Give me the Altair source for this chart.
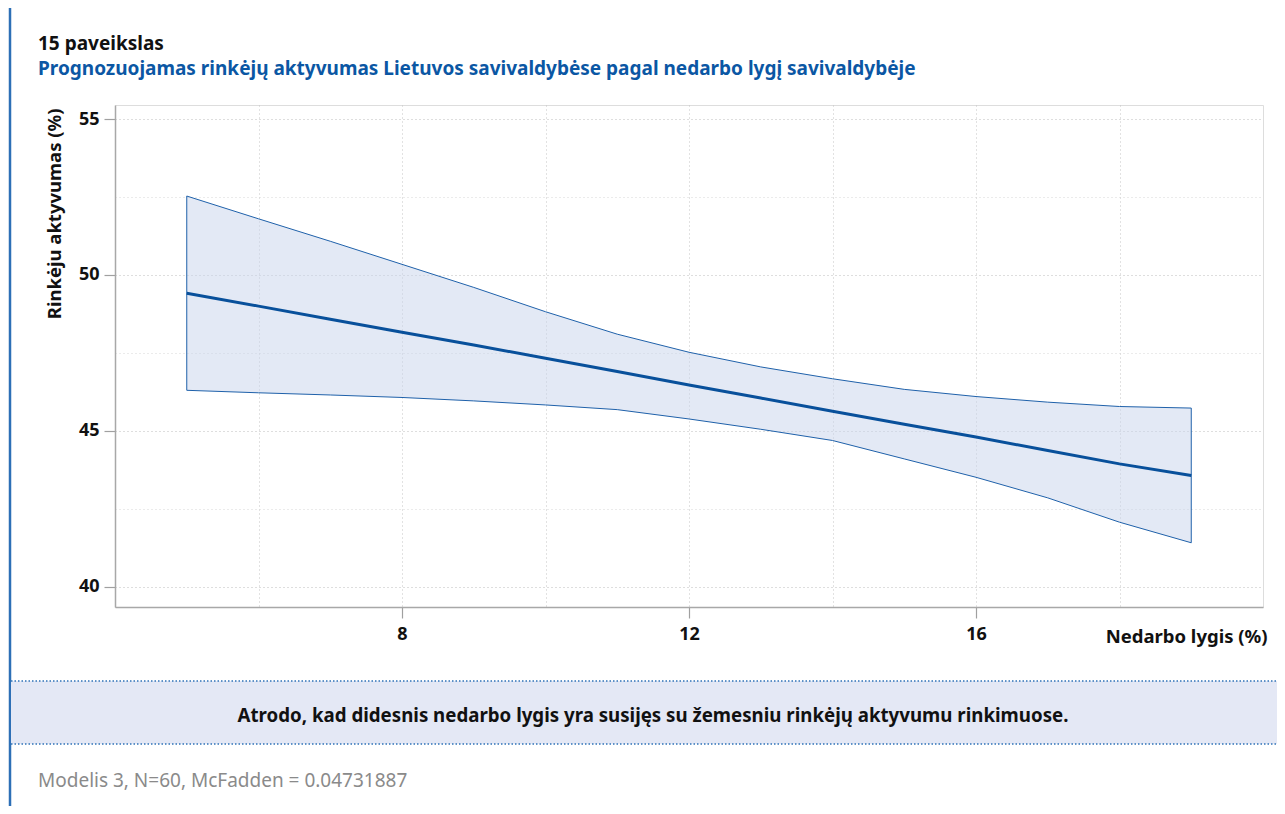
import altair as alt
import pandas as pd

# ---- data ----
unemployment = [5, 6, 7, 8, 9, 10, 11, 12, 13, 14, 15, 16, 17, 18, 19]
turnout_fit = [49.41, 49.00, 48.58, 48.16, 47.75, 47.33, 46.90, 46.47, 46.05, 45.63, 45.21, 44.80, 44.37, 43.94, 43.57]
turnout_upper = [52.53, 51.80, 51.08, 50.34, 49.60, 48.82, 48.10, 47.52, 47.05, 46.67, 46.33, 46.10, 45.92, 45.78, 45.73]
turnout_lower = [46.30, 46.22, 46.15, 46.07, 45.96, 45.83, 45.68, 45.38, 45.05, 44.69, 44.10, 43.51, 42.85, 42.07, 41.41]

x_grid_values = [6, 8, 10, 12, 14, 16, 18]
y_grid_values = [40, 42.5, 45, 47.5, 50, 52.5, 55]

title_text = "15 paveikslas"
subtitle_text = "Prognozuojamas rinkėjų aktyvumas Lietuvos savivaldybėse pagal nedarbo lygį savivaldybėje"
x_title = "Nedarbo lygis (%)"
y_title = "Rinkėju aktyvumas (%)"
band_text = "Atrodo, kad didesnis nedarbo lygis yra susijęs su žemesniu rinkėjų aktyvumu rinkimuose."
footer_text = "Modelis 3, N=60, McFadden = 0.04731887"

df = pd.DataFrame({"x": unemployment, "fit": turnout_fit,
                   "upper": turnout_upper, "lower": turnout_lower})

FONT = "Noto Sans"
BLUE = "#0b57a4"
W, H = 1148, 502

x_scale = alt.Scale(domain=[4, 20], nice=False, zero=False)
y_scale = alt.Scale(domain=[39.35, 55.45], nice=False, zero=False)

x_axis = alt.Axis(
    values=x_grid_values, grid=True, gridDash=[1, 3], gridColor="#c4c4c4", gridWidth=1,
    format=".0f",
    labelExpr="datum.value % 4 == 0 ? datum.label : ''",
    tickOpacity={"condition": {"test": "datum.value % 4 == 0", "value": 1}, "value": 0},
    tickSize=11, tickColor="#a0a0a0", tickWidth=1.2,
    domainColor="#a8a8a8", domainWidth=1.5,
    labelFont=FONT, labelFontSize=18, labelFontWeight="bold", labelColor="#111",
    labelPadding=7, labelFlush=False,
    title=x_title, titleFont=FONT, titleFontSize=18.5, titleFontWeight="bold", titleColor="#111",
    titleAnchor="end", titleAlign="right", titleBaseline="alphabetic",
    titleX=W + 4, titleY=35,
)
y_axis = alt.Axis(
    values=y_grid_values, grid=True, gridDash=[1, 3],
    gridColor={"condition": {"test": "datum.value % 5 == 0", "value": "#bdbdbd"}, "value": "#d6d6d6"},
    gridWidth=1, format=".0f",
    labelExpr="datum.value % 5 == 0 ? datum.label : ''",
    tickOpacity={"condition": {"test": "datum.value % 5 == 0", "value": 1}, "value": 0},
    tickSize=11, tickColor="#a0a0a0", tickWidth=1.2,
    domainColor="#a8a8a8", domainWidth=1.5,
    labelFont=FONT, labelFontSize=18, labelFontWeight="bold", labelColor="#111",
    labelPadding=5,
    title=y_title, titleFont=FONT, titleFontSize=18.5, titleFontWeight="bold", titleColor="#111",
    titleAngle=270, titleAlign="right", titleBaseline="alphabetic",
    titleX=-55, titleY=3,
)

base = alt.Chart(df)
band = base.mark_area(fill="#c8d3ec", fillOpacity=0.5, stroke="#1f61aa", strokeWidth=1).encode(
    x=alt.X("x:Q", scale=x_scale, axis=x_axis),
    y=alt.Y("lower:Q", scale=y_scale, axis=y_axis),
    y2="upper:Q",
)
line = base.mark_line(color="#08509b", strokeWidth=3).encode(
    x=alt.X("x:Q", scale=x_scale),
    y=alt.Y("fit:Q", scale=y_scale),
)

one = alt.Data(values=[{}])

left_border = alt.Chart(one).mark_rule(color="#2d6fb6", strokeWidth=2.5).encode(
    x=alt.value(-105), y=alt.value(-97), y2=alt.value(701))

note_box = alt.Chart(one).mark_rect(fill="#e4e8f5").encode(
    x=alt.value(-104), x2=alt.value(1162), y=alt.value(576), y2=alt.value(639))
note_top = alt.Chart(one).mark_rule(color="#2f72b8", strokeWidth=1.5, strokeDash=[1.5, 2]).encode(
    x=alt.value(-104), x2=alt.value(1162), y=alt.value(576))
note_bottom = alt.Chart(one).mark_rule(color="#2f72b8", strokeWidth=1.5, strokeDash=[1.5, 2]).encode(
    x=alt.value(-104), x2=alt.value(1162), y=alt.value(639))
note_label = alt.Chart(one).mark_text(font=FONT, fontSize=18.7, fontWeight="bold", color="#111",
                                      align="center", baseline="middle").encode(
    x=alt.value(538), y=alt.value(611), text=alt.value(band_text))

title_mark = alt.Chart(one).mark_text(font=FONT, fontSize=19, fontWeight="bold", color="#111",
                                      align="left", baseline="alphabetic").encode(
    x=alt.value(-77), y=alt.value(-55), text=alt.value(title_text))
subtitle_mark = alt.Chart(one).mark_text(font=FONT, fontSize=19, fontWeight="bold", color=BLUE,
                                         align="left", baseline="alphabetic").encode(
    x=alt.value(-77), y=alt.value(-30), text=alt.value(subtitle_text))
footer_mark = alt.Chart(one).mark_text(font=FONT, fontSize=19, color="#8a8a8a",
                                       align="left", baseline="middle").encode(
    x=alt.value(-77), y=alt.value(676), text=alt.value(footer_text))

chart = alt.layer(
    band, line, left_border, note_box, note_top, note_bottom, note_label,
    title_mark, subtitle_mark, footer_mark,
).properties(
    width=W, height=H,
    autosize=alt.AutoSizeParams(type="none"),
    padding={"left": 107, "top": 97, "right": 14, "bottom": 199},
).configure_view(strokeWidth=0).configure(background="white")

chart.save("out.html", embed_options={"renderer": "svg", "actions": False})
